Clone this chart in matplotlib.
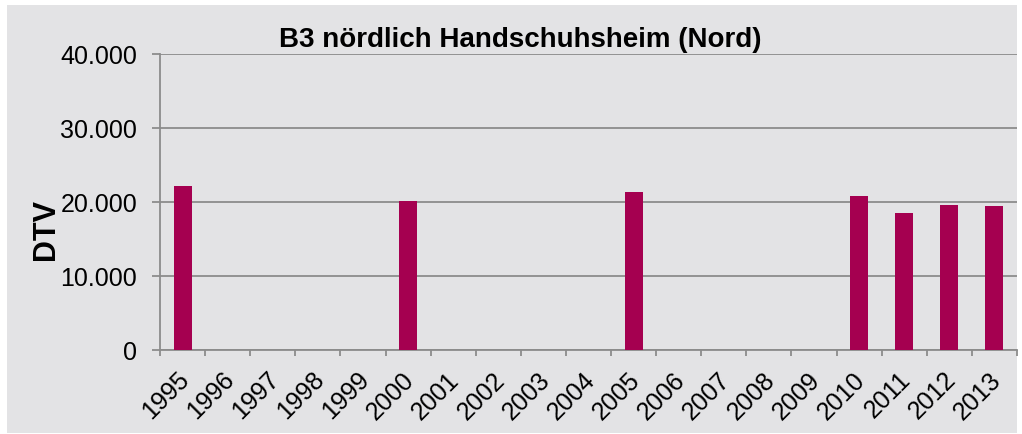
import matplotlib.pyplot as plt
from matplotlib.patches import Rectangle
from matplotlib.ticker import FuncFormatter
from matplotlib.transforms import ScaledTranslation
import numpy as np

plt.rcParams['font.family'] = ['Liberation Sans', 'DejaVu Sans']

# Daten
jahre = [str(j) for j in range(1995, 2014)]
dtv = [22100, 0, 0, 0, 0, 20100, 0, 0, 0, 0, 21300, 0, 0, 0, 0, 20850, 18500, 19550, 19400]
titel = "B3 nördlich Handschuhsheim (Nord)"

W, H = 1022, 435
fig = plt.figure(figsize=(W / 100, H / 100), dpi=100)
fig.patch.set_facecolor('white')
bg = '#e3e3e5'
fig.patches.append(Rectangle((7 / W, 1 - 434 / H), 1010 / W, 428 / H,
                             transform=fig.transFigure, facecolor=bg,
                             edgecolor='none', zorder=-10))

ax = fig.add_axes([160 / W, 1 - 351 / H, (1017 - 160) / W, (351 - 55) / H])
ax.patch.set_alpha(0)

x = np.arange(len(jahre))
werte = np.array(dtv, dtype=float)
maske = werte > 0
ax.bar(x[maske], werte[maske], width=0.4, color='#a50050', zorder=3)

ax.set_xlim(-0.5, len(jahre) - 0.5)
ax.set_ylim(0, 40000)
ax.set_yticks([0, 10000, 20000, 30000, 40000])
ax.yaxis.set_major_formatter(FuncFormatter(lambda v, p: f"{int(v):,}".replace(",", ".")))
ax.grid(axis='y', color='#8c8c8c', linewidth=1.3, zorder=1)
ax.set_axisbelow(True)

# Striche an den Kategoriegrenzen, Beschriftung in der Mitte
ax.set_xticks(np.arange(len(jahre) + 1) - 0.5)
ax.set_xticklabels([])
ax.set_xticks(x, minor=True)
ax.set_xticklabels(jahre, minor=True, rotation=45, ha='right', rotation_mode='anchor')
ax.tick_params(axis='x', which='minor', length=0, labelsize=18, pad=12)
ax.tick_params(axis='x', which='major', length=4.5, width=1.3, color='#8c8c8c')
ax.tick_params(axis='y', length=6, width=1.3, color='#8c8c8c', labelsize=18, pad=10.5)
for lbl in ax.get_xticklabels(minor=True):
    lbl.set_transform(lbl.get_transform() + ScaledTranslation(-0.06, 0, fig.dpi_scale_trans))

for s in ['top', 'right']:
    ax.spines[s].set_visible(False)
for s in ['left', 'bottom']:
    ax.spines[s].set_color('#8c8c8c')
    ax.spines[s].set_linewidth(1.3)

fig.text(520 / W, 1 - 40 / H, titel, ha='center', va='center', fontsize=20, fontweight='bold')
fig.text(46 / W, 1 - 229 / H, "DTV", ha='center', va='center', rotation=90, fontsize=22, fontweight='bold')

fig.savefig('out.png', dpi=100)
